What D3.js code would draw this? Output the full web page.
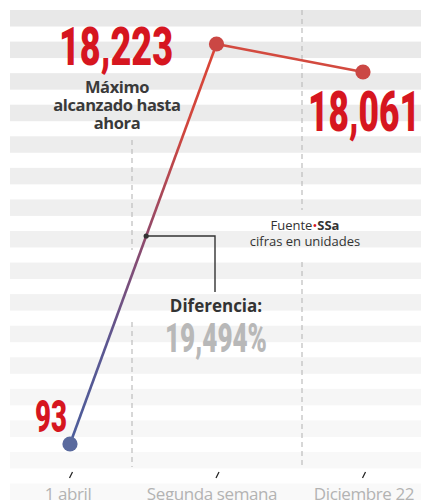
<!DOCTYPE html>
<html>
<head>
<meta charset="utf-8">
<script src="https://cdn.jsdelivr.net/npm/d3@7"></script>
<style>
  body { margin: 0; background: #fff; }
  svg { display: block; }
  .num { font-family: Roboto, "Liberation Sans", sans-serif; font-weight: 900; }
  .lbl { font-family: "Open Sans", "Noto Sans", sans-serif; }
</style>
</head>
<body>
<svg id="chart"></svg>
<script>
const WIDTH = 421;
const HEIGHT = 500;

// data
const categories = ["1 abril", "Segunda semana", "Diciembre 22"];
const values = [93, 18223, 18061];
const valueLabels = ["93", "18,223", "18,061"];
const diffLabel = "19,494%";
const maxNote = ["Máximo", "alcanzado hasta", "ahora"];
const sourceNote = ["Fuente", "SSa", "cifras en unidades"];

const svg = d3.select("#chart").attr("width", WIDTH).attr("height", HEIGHT);

// striped background
const stripeTop = 10, stripeStep = 31.57, stripeH = 16.5;
const stripeColor = d3.scaleLinear().domain([0, 15]).range(["#e8e8e8", "#f9f9f9"]);
svg.append("g").selectAll("rect")
    .data(d3.range(16))
    .join("rect")
    .attr("x", 10)
    .attr("y", d => stripeTop + d * stripeStep)
    .attr("width", WIDTH - 10)
    .attr("height", stripeH)
    .attr("fill", d => stripeColor(d));

// dashed guides (split around the text blocks)
const guides = [
    {x: 132, y1: 140, y2: 250},
    {x: 132, y1: 322, y2: 467},
    {x: 302, y1: 10, y2: 210},
    {x: 302, y1: 262, y2: 467}
];
svg.append("g").selectAll("line")
    .data(guides)
    .join("line")
    .attr("x1", d => d.x).attr("x2", d => d.x)
    .attr("y1", d => d.y1).attr("y2", d => d.y2)
    .attr("stroke", "#bdbdbd")
    .attr("stroke-width", 1.2)
    .attr("stroke-dasharray", "5,4");

// scales (the chart is schematic, so y is piecewise)
const x = d3.scalePoint().domain(categories).range([70, 363]);
const y = d3.scaleLinear().domain([93, 18061, 18223]).range([444, 72, 44]);

const pts = categories.map((c, i) => ({cat: c, v: values[i], label: valueLabels[i]}));

// gradient for the rising segment
const defs = svg.append("defs");
const grad = defs.append("linearGradient")
    .attr("id", "rise")
    .attr("gradientUnits", "userSpaceOnUse")
    .attr("x1", x(categories[0])).attr("y1", y(values[0]))
    .attr("x2", x(categories[1])).attr("y2", y(values[1]));
grad.append("stop").attr("offset", 0).attr("stop-color", "#4b5d9b");
grad.append("stop").attr("offset", 0.25).attr("stop-color", "#5c5791");
grad.append("stop").attr("offset", 0.5).attr("stop-color", "#8c4a6e");
grad.append("stop").attr("offset", 0.78).attr("stop-color", "#cf463e");
grad.append("stop").attr("offset", 1).attr("stop-color", "#db4536");

const line = d3.line().x(d => x(d.cat)).y(d => y(d.v));

svg.append("path")
    .attr("d", line(pts.slice(0, 2)))
    .attr("fill", "none")
    .attr("stroke", "url(#rise)")
    .attr("stroke-width", 2.6);

svg.append("path")
    .attr("d", line(pts.slice(1)))
    .attr("fill", "none")
    .attr("stroke", "#d34a3f")
    .attr("stroke-width", 2.6);

// connector for the difference note
const mid = 0.52;
const cx0 = x(categories[0]) + (x(categories[1]) - x(categories[0])) * mid;
const cy0 = y(values[0]) + (y(values[1]) - y(values[0])) * mid;
svg.append("path")
    .attr("d", `M${cx0},${cy0}H215V292`)
    .attr("fill", "none")
    .attr("stroke", "#333")
    .attr("stroke-width", 1.4);
svg.append("circle")
    .attr("cx", cx0).attr("cy", cy0).attr("r", 2.6)
    .attr("fill", "#333");

// points
svg.append("g").selectAll("circle")
    .data(pts)
    .join("circle")
    .attr("cx", d => x(d.cat))
    .attr("cy", d => y(d.v))
    .attr("r", 7.6)
    .attr("fill", (d, i) => i === 0 ? "#5a6a9e" : "#cb4744");

// value labels
const valuePos = [
    {x: 35, y: 432, size: 45, w: 32},
    {x: 59, y: 65, size: 53, w: 114},
    {x: 308, y: 131, size: 55, w: 112}
];
svg.append("g").selectAll("text")
    .data(pts)
    .join("text")
    .attr("class", "num")
    .attr("x", (d, i) => valuePos[i].x)
    .attr("y", (d, i) => valuePos[i].y)
    .attr("font-size", (d, i) => valuePos[i].size)
    .attr("textLength", (d, i) => valuePos[i].w)
    .attr("lengthAdjust", "spacingAndGlyphs")
    .attr("fill", "#d6161f")
    .text(d => d.label);

// max note
svg.append("text")
    .attr("class", "lbl")
    .attr("text-anchor", "middle")
    .attr("font-size", 16.5)
    .attr("font-weight", 700)
    .attr("letter-spacing", -0.4)
    .attr("fill", "#3a3a3a")
    .selectAll("tspan")
    .data(maxNote)
    .join("tspan")
    .attr("x", 117)
    .attr("y", (d, i) => 93 + i * 18)
    .text(d => d);

// source note
const src = svg.append("text")
    .attr("class", "lbl")
    .attr("text-anchor", "middle")
    .attr("font-size", 13)
    .attr("fill", "#333")
    .attr("x", 305)
    .attr("y", 230);
src.append("tspan").text(sourceNote[0]);
src.append("tspan").attr("fill", "#d6161f").text("•");
src.append("tspan").attr("font-weight", 700).text(sourceNote[1]);
svg.append("text")
    .attr("class", "lbl")
    .attr("text-anchor", "middle")
    .attr("font-size", 13)
    .attr("fill", "#333")
    .attr("x", 305)
    .attr("y", 246)
    .text(sourceNote[2]);

// difference note
svg.append("text")
    .attr("class", "lbl")
    .attr("text-anchor", "middle")
    .attr("font-size", 17)
    .attr("font-weight", 700)
    .attr("fill", "#333")
    .attr("x", 216)
    .attr("y", 312)
    .text("Diferencia:");
svg.append("text")
    .attr("class", "num")
    .attr("x", 165)
    .attr("y", 352)
    .attr("font-size", 41)
    .attr("textLength", 102)
    .attr("lengthAdjust", "spacingAndGlyphs")
    .attr("fill", "#b8b8b8")
    .text(diffLabel);

// x axis: slanted ticks + labels
const labelX = [68, 212, 364];
const axis = svg.append("g");
axis.selectAll("line")
    .data(categories)
    .join("line")
    .attr("x1", d => x(d) + 2.5).attr("y1", 472)
    .attr("x2", d => x(d) - 0.5).attr("y2", 478)
    .attr("stroke", "#222")
    .attr("stroke-width", 1.3);
axis.selectAll("text")
    .data(categories)
    .join("text")
    .attr("class", "lbl")
    .attr("x", (d, i) => labelX[i])
    .attr("y", 500)
    .attr("text-anchor", "middle")
    .attr("font-size", 17)
    .attr("letter-spacing", -0.4)
    .attr("fill", "#b3b3b3")
    .text(d => d);
</script>
</body>
</html>
